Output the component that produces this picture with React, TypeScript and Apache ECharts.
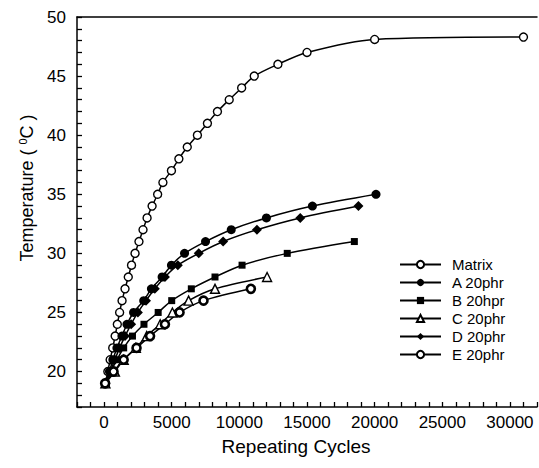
import React, { useEffect, useRef } from "react";
import * as echarts from "echarts";

const FONT = "'Liberation Sans', Arial, Helvetica, sans-serif";

const seriesNames = ["Matrix", "A 20phr", "B 20hpr", "C 20phr", "D 20phr", "E 20phr"];

const matrixCycles = [100, 280, 450, 640, 820, 980, 1150, 1330, 1550, 1790, 2030, 2290, 2580, 2880, 3180, 3550, 3960, 4350, 4980, 5530, 6150, 6900, 7640, 8380, 9250, 10170, 11100, 12850, 15000, 20000, 31000];
const matrixTemp = [19, 20, 21, 22, 23, 24, 25, 26, 27, 28, 29, 30, 31, 32, 33, 34, 35, 36, 37, 38, 39, 40, 41, 42, 43, 44, 45, 46, 47, 48.1, 48.3];

const aCycles = [80, 400, 650, 950, 1320, 1690, 2180, 2930, 3500, 4290, 4980, 5950, 7500, 9400, 12000, 15400, 20100];
const aTemp = [19, 20, 21, 22, 23, 24, 25, 26, 27, 28, 29, 30, 31, 32, 33, 34, 35];

const bCycles = [100, 500, 950, 1450, 2100, 2950, 4000, 5000, 6450, 8200, 10200, 13540, 18500];
const bTemp = [19, 20, 21, 22, 23, 24, 25, 26, 27, 28, 29, 30, 31];

const cCycles = [100, 800, 1450, 2350, 3150, 4150, 5050, 6250, 8200, 12050];
const cTemp = [19, 20, 21, 22, 23, 24, 25, 26, 27, 28];

const dCycles = [100, 450, 800, 1150, 1550, 2000, 2500, 3100, 3750, 4500, 5450, 7000, 8800, 11300, 14500, 18800];
const dTemp = [19, 20, 21, 22, 23, 24, 25, 26, 27, 28, 29, 30, 31, 32, 33, 34];

const eCycles = [80, 700, 1450, 2400, 3400, 4500, 5580, 7350, 10850];
const eTemp = [19, 20, 21, 22, 23, 24, 25, 26, 27];

const xTickLabels = [0, 5000, 10000, 15000, 20000, 25000, 30000];
const xAllTicks = [-2000, -1000, 0, 1000, 2000, 3000, 4000, 5000, 6000, 7000, 8000, 9000, 10000, 11000, 12000, 13000, 14000, 15000, 16000, 17000, 18000, 19000, 20000, 21000, 22000, 23000, 24000, 25000, 26000, 27000, 28000, 29000, 30000, 31000, 32000];
const yTickLabels = [20, 25, 30, 35, 40, 45, 50];
const yAllTicks = [17, 18, 19, 20, 21, 22, 23, 24, 25, 26, 27, 28, 29, 30, 31, 32, 33, 34, 35, 36, 37, 38, 39, 40, 41, 42, 43, 44, 45, 46, 47, 48, 49, 50];

const pairs = (xs: number[], ys: number[]) => xs.map((x, i) => [x, ys[i]]);

export default function App() {
  const ref = useRef<HTMLDivElement>(null);
  useEffect(() => {
    document.body.style.margin = "0";
    if (!ref.current) return;
    const chart = echarts.init(ref.current, null, { renderer: "svg" });
    const line = { color: "#000", width: 1.5 };
    const mk = (
      name: string,
      data: number[][],
      symbol: string,
      size: number,
      fill: string,
      bw: number
    ) => ({
      name,
      type: "line",
      data,
      xAxisIndex: 0,
      yAxisIndex: 0,
      smooth: 0.3,
      symbol,
      symbolSize: size,
      showSymbol: true,
      lineStyle: { color: "#000", width: 1.5 },
      itemStyle: { color: fill, borderColor: "#000", borderWidth: bw },
      emphasis: { disabled: true },
    });
    const option: any = {
      animation: false,
      grid: { left: 77, right: 2, top: 17, bottom: 61 },
      xAxis: [
        {
          type: "value",
          min: -2000,
          max: 32000,
          position: "bottom",
          axisLine: { show: true, onZero: false, lineStyle: line },
          axisTick: { show: true, inside: true, length: 5, customValues: xAllTicks, lineStyle: { color: "#000", width: 1.3 } },
          axisLabel: {
            customValues: xTickLabels,
            formatter: (v: number) => String(v),
            fontSize: 17,
            fontFamily: FONT,
            color: "#000",
            margin: 7,
          },
          splitLine: { show: false },
        },
        {
          type: "value",
          min: -2000,
          max: 32000,
          position: "top",
          axisLine: { show: true, onZero: false, lineStyle: line },
          axisTick: { show: false },
          axisLabel: { show: false },
          splitLine: { show: false },
        },
      ],
      yAxis: [
        {
          type: "value",
          min: 17,
          max: 50,
          position: "left",
          axisLine: { show: true, onZero: false, lineStyle: line },
          axisTick: { show: true, inside: true, length: 5, customValues: yAllTicks, lineStyle: { color: "#000", width: 1.3 } },
          axisLabel: {
            customValues: yTickLabels,
            fontSize: 17,
            fontFamily: FONT,
            color: "#000",
            margin: 11,
          },
          splitLine: { show: false },
        },
      ],
      legend: {
        data: seriesNames,
        orient: "vertical",
        left: 394,
        top: 252,
        itemWidth: 41,
        itemHeight: 9,
        itemGap: 3,
        selectedMode: false,
        textStyle: { fontSize: 15, fontFamily: FONT, color: "#000", padding: [0, 0, 0, 6] },
      },
      graphic: [
        {
          type: "text",
          x: 296,
          y: 446,
          style: {
            text: "Repeating Cycles",
            fontSize: 19,
            fontFamily: FONT,
            fill: "#000",
            align: "center",
            verticalAlign: "middle",
          },
        },
        {
          type: "text",
          x: 27,
          y: 188,
          rotation: Math.PI / 2,
          style: {
            text: "Temperature ( {sup|0}C )",
            fontSize: 18,
            fontFamily: FONT,
            fill: "#000",
            align: "center",
            verticalAlign: "middle",
            rich: {
              sup: { fontSize: 11, fontFamily: FONT, fill: "#000", padding: [0, 0, 9, 0] },
            },
          },
        },
      ],
      series: [
        mk(seriesNames[0], pairs(matrixCycles, matrixTemp), "circle", 8, "#fff", 1.4),
        mk(seriesNames[1], pairs(aCycles, aTemp), "circle", 9, "#000", 0),
        mk(seriesNames[2], pairs(bCycles, bTemp), "rect", 7, "#000", 0),
        mk(seriesNames[3], pairs(cCycles, cTemp), "triangle", 9, "#fff", 1.4),
        mk(seriesNames[4], pairs(dCycles, dTemp), "diamond", 10, "#000", 0),
        mk(seriesNames[5], pairs(eCycles, eTemp), "circle", 8, "#fff", 2.6),
      ],
    };
    chart.setOption(option);
    return () => chart.dispose();
  }, []);
  return <div ref={ref} style={{ width: 539, height: 468 }} />;
}
